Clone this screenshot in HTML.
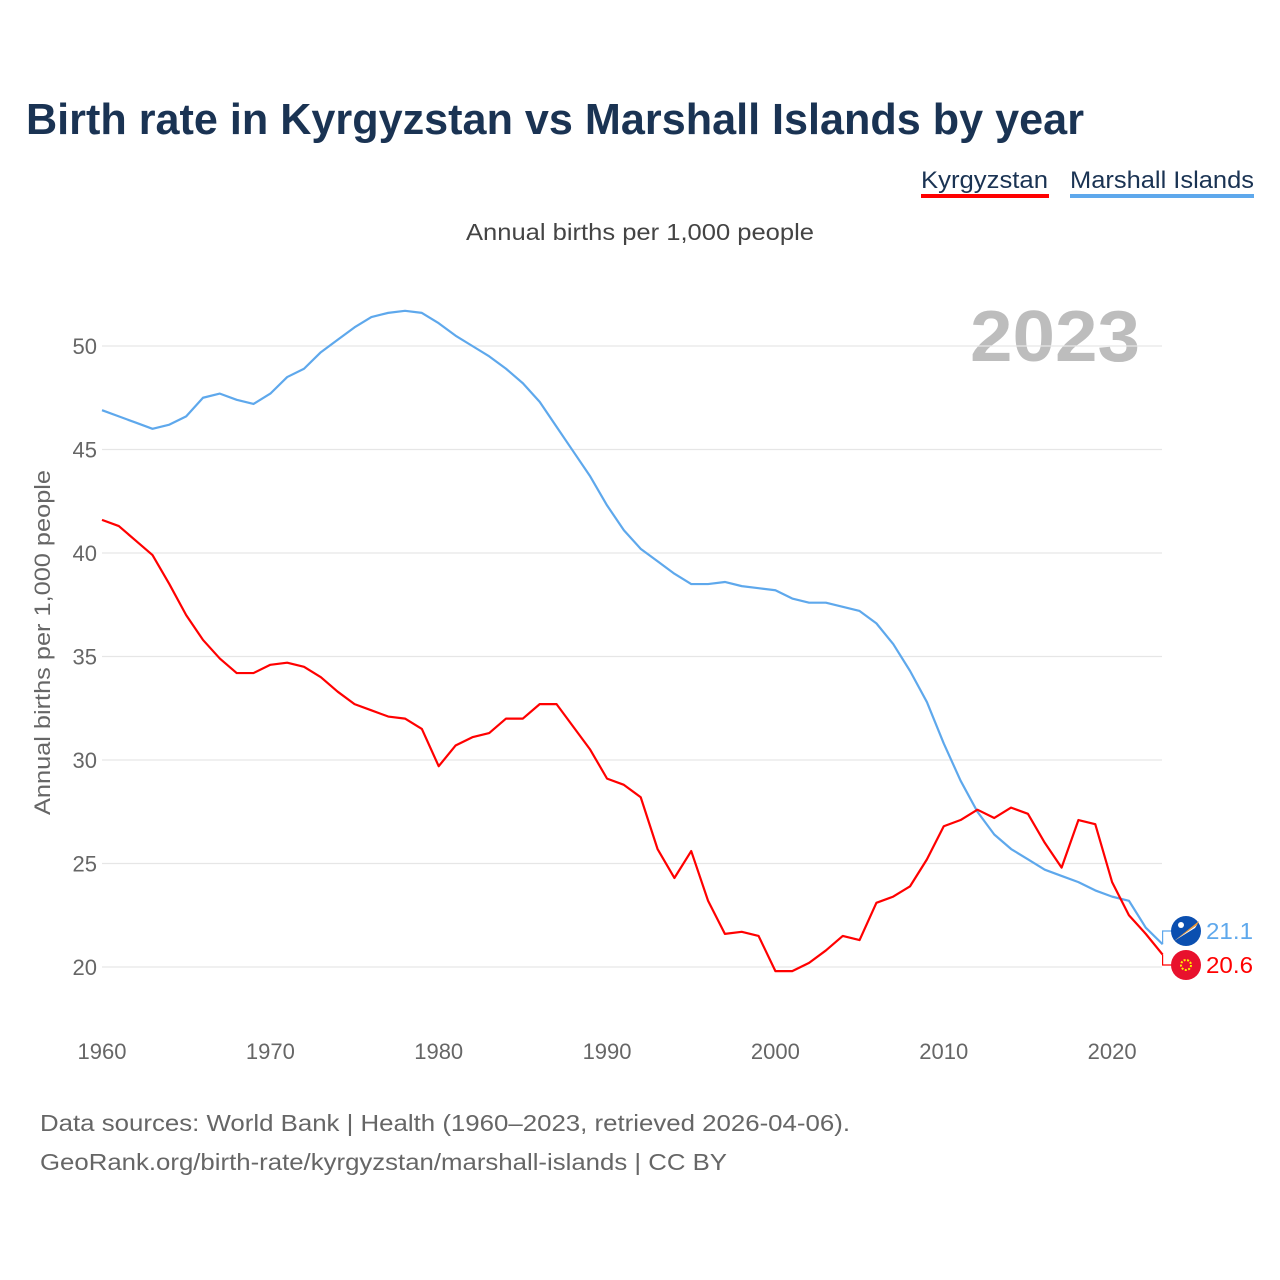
<!DOCTYPE html>
<html><head><meta charset="utf-8"><style>
body{margin:0;background:#fff;font-family:"Liberation Sans",sans-serif;}
#wrap{position:relative;width:1280px;height:1280px;overflow:hidden;}
</style></head><body>
<div id="wrap">
<svg id="chart" width="1280" height="1280">
<text x="26" y="134" font-size="44" font-weight="bold" fill="#1a3353" textLength="1058" lengthAdjust="spacingAndGlyphs">Birth rate in Kyrgyzstan vs Marshall Islands by year</text>
<g><text x="921" y="188" font-size="24" fill="#1a3353" textLength="127" lengthAdjust="spacingAndGlyphs">Kyrgyzstan</text><rect x="921" y="194" width="128" height="4" fill="#ff0000"/></g>
<g><text x="1070" y="188" font-size="24" fill="#1a3353" textLength="184" lengthAdjust="spacingAndGlyphs">Marshall Islands</text><rect x="1070" y="194" width="184" height="4" fill="#5ea8ec"/></g>
<text x="466" y="240" font-size="23" fill="#444" textLength="348" lengthAdjust="spacingAndGlyphs">Annual births per 1,000 people</text>
<text x="970" y="361" font-size="72" font-weight="bold" fill="#bdbdbd" textLength="170" lengthAdjust="spacingAndGlyphs">2023</text>
<text transform="translate(50,815) rotate(-90)" font-size="22" fill="#666" textLength="345" lengthAdjust="spacingAndGlyphs">Annual births per 1,000 people</text>
<g id="grid"></g><g id="lines"></g><g id="ends"></g>
<text x="40" y="1131" font-size="23" fill="#666" textLength="810" lengthAdjust="spacingAndGlyphs">Data sources: World Bank | Health (1960–2023, retrieved 2026-04-06).</text>
<text x="40" y="1170" font-size="23" fill="#666" textLength="687" lengthAdjust="spacingAndGlyphs">GeoRank.org/birth-rate/kyrgyzstan/marshall-islands | CC BY</text>
</svg>
</div>
<script>
const years=[];for(let y=1960;y<=2023;y++)years.push(y);
const kyrgyzstan=[41.6,41.3,40.6,39.9,38.5,37.0,35.8,34.9,34.2,34.2,34.6,34.7,34.5,34.0,33.3,32.7,32.4,32.1,32.0,31.5,29.7,30.7,31.1,31.3,32.0,32.0,32.7,32.7,31.6,30.5,29.1,28.8,28.2,25.7,24.3,25.6,23.2,21.6,21.7,21.5,19.8,19.8,20.2,20.8,21.5,21.3,23.1,23.4,23.9,25.2,26.8,27.1,27.6,27.2,27.7,27.4,26.0,24.8,27.1,26.9,24.1,22.5,21.6,20.6];
const marshall=[46.9,46.6,46.3,46.0,46.2,46.6,47.5,47.7,47.4,47.2,47.7,48.5,48.9,49.7,50.3,50.9,51.4,51.6,51.7,51.6,51.1,50.5,50.0,49.5,48.9,48.2,47.3,46.1,44.9,43.7,42.3,41.1,40.2,39.6,39.0,38.5,38.5,38.6,38.4,38.3,38.2,37.8,37.6,37.6,37.4,37.2,36.6,35.6,34.3,32.8,30.8,29.0,27.5,26.4,25.7,25.2,24.7,24.4,24.1,23.7,23.4,23.2,21.9,21.1];
const yTicks=[20,25,30,35,40,45,50];
const xTicks=[1960,1970,1980,1990,2000,2010,2020];
const NS='http://www.w3.org/2000/svg';
const X=y=>102+(y-1960)*16.835;
const Y=v=>967-(v-20)*20.7;
function mk(t,a,p){const e=document.createElementNS(NS,t);for(const k in a)e.setAttribute(k,a[k]);p.appendChild(e);return e;}
const grid=document.getElementById('grid');
yTicks.forEach(v=>{
  const l=mk('line',{x1:102,x2:1162,y1:Y(v),y2:Y(v),stroke:'#e6e6e6','stroke-width':1.3},grid);
  
  
  const t=mk('text',{x:97,y:Y(v)+8,'font-size':22,fill:'#666','text-anchor':'end'},grid);t.textContent=v;
  
  
});
xTicks.forEach(v=>{
  const t=mk('text',{x:X(v),y:1059,'font-size':22,fill:'#666','text-anchor':'middle'},grid);t.textContent=v;
  
  
});
const lines=document.getElementById('lines');
function draw(data,color,name){
  const p=mk('polyline',{points:data.map((v,i)=>X(years[i])+','+Y(v)).join(' '),fill:'none',stroke:color,'stroke-width':2.2,'stroke-linejoin':'round'},lines);
  
  
}
draw(marshall,'#5ea8ec','marshall-islands-line');
draw(kyrgyzstan,'#ff0000','kyrgyzstan-line');
const ends=document.getElementById('ends');
function endLabel(v,fy,color,name,fill){
  const x=X(2023);
  mk('polyline',{points:`${x},${Y(v)} ${x},${fy} ${x+10},${fy}`,fill:'none',stroke:color,'stroke-width':1.2},ends);
  const c=mk('circle',{cx:1186,cy:fy,r:15,fill:fill},ends);
  
  
  const t=mk('text',{x:1206,y:fy+8,'font-size':23,fill:color,textLength:47,lengthAdjust:'spacingAndGlyphs'},ends);t.textContent=v.toFixed(1);
  
  
}
endLabel(marshall[marshall.length-1],931,'#5ea8ec','marshall-islands','#0b4fb0');
mk('path',{d:'M1174,941 L1199,921 L1197,925 Z',fill:'#f39a30'},ends);
mk('path',{d:'M1174,941 L1197,925 L1195,928 Z',fill:'#fff'},ends);
mk('circle',{cx:1181,cy:925,r:3,fill:'#fff'},ends);
endLabel(kyrgyzstan[kyrgyzstan.length-1],965,'#ff0000','kyrgyzstan','#e8112d');
mk('circle',{cx:1186,cy:965,r:5,fill:'none',stroke:'#ffef00','stroke-width':2,'stroke-dasharray':'2 1.5'},ends);
</script>
</body></html>
